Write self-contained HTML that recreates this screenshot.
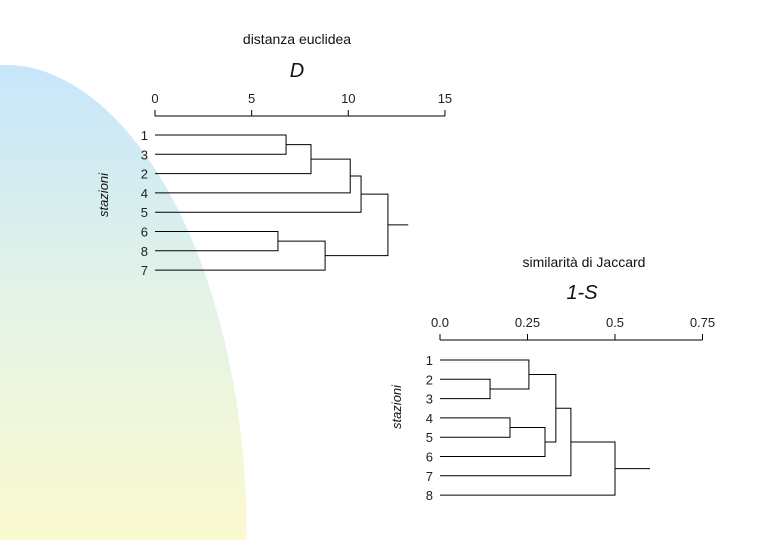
<!DOCTYPE html>
<html><head><meta charset="utf-8"><style>
body{margin:0;width:780px;height:540px;overflow:hidden;background:#fff;font-family:"Liberation Sans",sans-serif}
</style></head><body>
<svg width="780" height="540">
<defs><linearGradient id="bg" x1="0" y1="0" x2="0" y2="1">
<stop offset="0" stop-color="#c6e6fb"/><stop offset="0.5" stop-color="#e4f3e6"/><stop offset="1" stop-color="#fbfad0"/></linearGradient></defs>
<path d="M0,65 Q20,64 40,70 A247 475 0 0 1 247,540 L0,540 Z" fill="url(#bg)"/>
<g id="g1"></g>
<g id="g2"></g>
</svg>
<script>
const ns="http://www.w3.org/2000/svg";
// chart 1 data
const leaves1=["1","3","2","4","5","6","8","7"];
const ticks1=[0,5,10,15];
// merges: [childA, childB, height]; children index leaves (0..) or previous nodes ("n0"...)
const merges1=[[0,1,6.78],["n0",2,8.07],["n1",3,10.1],["n2",4,10.66],[5,6,6.36],["n4",7,8.8],["n3","n5",12.05]];
const rootTail1=13.1;
// chart 2 data
const leaves2=["1","2","3","4","5","6","7","8"];
const ticks2=["0.0","0.25","0.5","0.75"];
const merges2=[[1,2,0.143],[0,"n0",0.254],[3,4,0.2],["n2",5,0.3],["n1","n3",0.331],["n4",6,0.374],["n5",7,0.5]];
const rootTail2=0.6;

function el(p,t,a,txt){const e=document.createElementNS(ns,t);for(const k in a)e.setAttribute(k,a[k]);if(txt!==undefined)e.textContent=txt;p.appendChild(e);return e;}
function draw(g,cfg){
  const sx=v=>cfg.x0+v*cfg.k;
  const ly=i=>cfg.y0+i*cfg.dy;
  let ax=el(g,'line',{x1:sx(0),x2:sx(parseFloat(cfg.ticks[cfg.ticks.length-1])),y1:cfg.ay,y2:cfg.ay,stroke:'#000'});
  
  
  cfg.ticks.forEach(t=>{const v=parseFloat(t);
    let tk=el(g,'line',{x1:sx(v),x2:sx(v),y1:cfg.ay,y2:cfg.ay-6,stroke:'#000'});
    
    
    let tl=el(g,'text',{x:sx(v),y:cfg.ay-13,'text-anchor':'middle','font-size':13,fill:'#222'},t);
    
    
  });
  const pos=[];
  cfg.leaves.forEach((l,i)=>{
    let t=el(g,'text',{x:cfg.x0-7,y:ly(i)+5,'text-anchor':'end','font-size':13,fill:'#222'},l);
    
    
    pos.push({x:sx(0),y:ly(i)});
  });
  const nodes=[];
  const get=c=>typeof c==='string'?nodes[+c.slice(1)]:pos[c];
  cfg.merges.forEach(m=>{
    const a=get(m[0]),b=get(m[1]),x=sx(m[2]);
    let p=el(g,'path',{d:`M${a.x},${a.y}H${x}V${b.y}H${b.x}`,fill:'none',stroke:'#000'});
    
    
    nodes.push({x:x,y:(a.y+b.y)/2});
  });
  const r=nodes[nodes.length-1];
  let tl=el(g,'line',{x1:r.x,x2:sx(cfg.tail),y1:r.y,y2:r.y,stroke:'#000'});
  
  
}
draw(document.getElementById('g1'),{x0:155,k:19.33,y0:135,dy:19.3,ay:116,ticks:ticks1.map(String),leaves:leaves1,merges:merges1,tail:rootTail1});
draw(document.getElementById('g2'),{x0:440,k:350,y0:360,dy:19.3,ay:340,ticks:ticks2,leaves:leaves2,merges:merges2,tail:rootTail2});
</script>
<svg width="780" height="540" style="position:absolute;left:0;top:0">
<text x="297" y="44" text-anchor="middle" font-size="14" font-family="Liberation Sans" fill="#111">distanza euclidea</text>
<text x="297" y="77" text-anchor="middle" font-size="20" font-style="italic" font-family="Liberation Sans" fill="#111">D</text>
<text transform="translate(108,195) rotate(-90)" text-anchor="middle" font-size="13" font-style="italic" font-family="Liberation Sans" fill="#111">stazioni</text>
<text x="584" y="267" text-anchor="middle" font-size="14" font-family="Liberation Sans" fill="#111">similarità di Jaccard</text>
<text x="582" y="299" text-anchor="middle" font-size="20" font-style="italic" font-family="Liberation Sans" fill="#111">1-S</text>
<text transform="translate(401,407) rotate(-90)" text-anchor="middle" font-size="13" font-style="italic" font-family="Liberation Sans" fill="#111">stazioni</text>
</svg>
</body></html>
